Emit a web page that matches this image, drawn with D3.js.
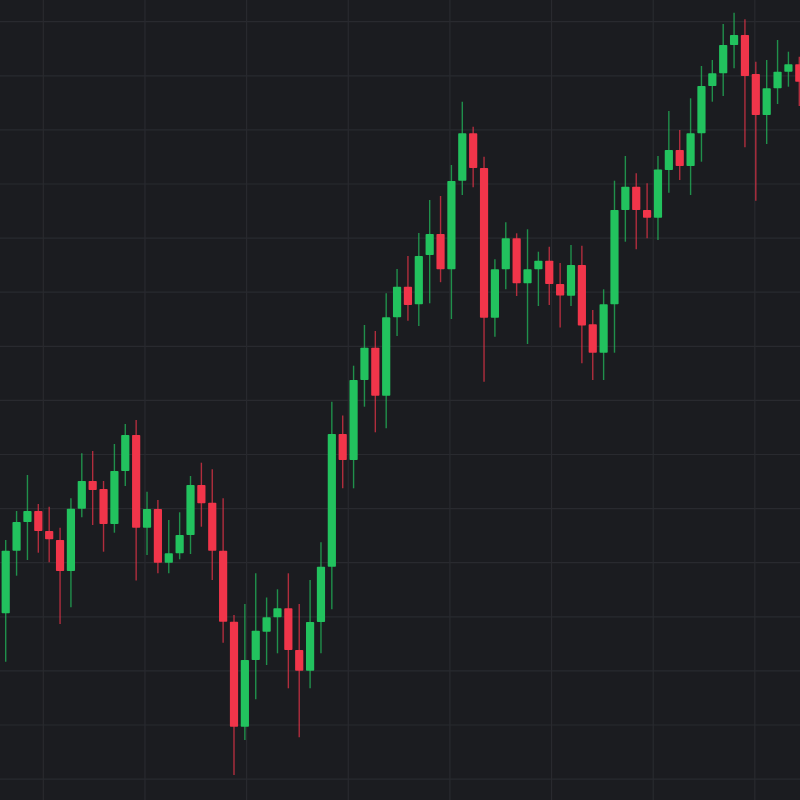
<!DOCTYPE html>
<html>
<head>
<meta charset="utf-8">
<script src="https://cdn.jsdelivr.net/npm/d3@7"></script>
<style>
  html, body { margin: 0; padding: 0; background: #1b1c20; }
  svg { display: block; }
</style>
</head>
<body>
<div id="chart"></div>
<script>
// Candle data (price units)
const opens  = [186.7,249.3,278,289,269,260,229,291.3,319,311,276,329,365,272.3,291,237.3,246.7,265,315,297.3,249.3,178.3,73.3,140,168.3,182.7,191.7,150,129.3,178,233.3,366,340,420,452.3,404.3,482.7,513.3,495.7,545,566,530.7,619.3,666.7,632,482.3,530.7,561.7,516.7,530.7,539.3,516,504.3,535,475.7,447.3,495.7,590,613.3,590,582.3,630,650,634,666.7,714,726.7,755,765,726,685,711.7,728.3,735.7];
const closes = [249.3,278,289,269,260.7,229,291.3,319,310,276,329,365,272.3,291,237.3,246.7,265,315,296.7,249.3,178.3,73.3,140,169.3,182.7,191.7,150,129.3,178,233.3,366,340,420,452.3,404.3,482.7,513.3,495,544,566,530.7,619,666.7,632,482.3,530.7,561.7,516.7,530.7,539.3,516,504.5,535,474.5,447.3,495.7,590,613.3,590,582.3,630.5,650,634,666.7,714,726.7,755,765,724,685,711.7,728.3,735.7,718.3];
const highs  = [260,289,325,296,293.3,272.3,301.7,346.7,349,319,356,376,380,308.3,300,280,287.7,324,337.3,330.7,301.7,185,196,226.7,202.5,210.7,226.7,196,220,257.7,398.3,384.5,434.3,475,469,506.7,531,544,567,600,604,635,698.3,673.3,643.3,540.7,577.7,566.7,570.7,548.3,553.3,537,555,554.3,490,510.7,619.3,644,626.7,616.7,644,689,670,701.7,734,740,776,787.3,780.7,738.3,740,760,748.3,743.3];
const lows   = [138.3,224.3,240,247.3,237.7,176,192.7,282.7,275,248.3,267.3,314,219.5,245,226.7,226.7,240.7,246,273.3,220,157.3,25,60,100.7,135,146.7,111.7,62.7,111.7,146.7,190.7,311.7,311.7,393.3,367.7,371.7,464,479.3,474,496.7,517.8,481,605,612.7,418.3,463.3,510.7,504,456,494,495,472.5,494,436.7,420,420,447.3,558.3,550.7,561.7,560,607.3,620,605,638.3,698.3,704,731.7,652.7,599.3,656,696,713.3,694];

// Grid levels (price units) and vertical grid positions (candle-index units)
const gridPrices = [778.3,724.2,670.1,616,561.9,507.8,453.7,399.6,345.5,291.4,237.3,183.2,129.1,75,20.9];
const gridIndex  = [3.46,12.81,22.16,31.51,40.86,50.21,59.56,68.91];

const W = 800, H = 800;
const GREEN = "#22c25e", RED = "#f1354a";

const data = opens.map((o, i) => ({ i, o, c: closes[i], h: highs[i], l: lows[i] }));

const x = d3.scaleLinear().domain([0, data.length - 1]).range([5.7, 799.3]);
const y = d3.scaleLinear().domain([0, 800]).range([H, 0]);

const svg = d3.select("#chart").append("svg").attr("width", W).attr("height", H);
svg.append("rect").attr("width", W).attr("height", H).attr("fill", "#1b1c20");

const grid = svg.append("g").attr("stroke", "#292a2f").attr("stroke-width", 1.2);
grid.selectAll("line.h").data(gridPrices).join("line").attr("class", "h")
  .attr("x1", 0).attr("x2", W).attr("y1", d => y(d)).attr("y2", d => y(d));
grid.selectAll("line.v").data(gridIndex).join("line").attr("class", "v")
  .attr("y1", 0).attr("y2", H).attr("x1", d => x(d)).attr("x2", d => x(d));

const bodyW = 8.2;
const col = d => d.c >= d.o ? GREEN : RED;

const candles = svg.append("g").selectAll("g").data(data).join("g");
candles.append("line")
  .attr("x1", d => x(d.i)).attr("x2", d => x(d.i))
  .attr("y1", d => y(d.h)).attr("y2", d => y(d.l))
  .attr("stroke", col).attr("stroke-width", 1.4).attr("stroke-opacity", 0.7);
candles.append("rect")
  .attr("x", d => x(d.i) - bodyW / 2)
  .attr("width", bodyW)
  .attr("y", d => y(Math.max(d.o, d.c)))
  .attr("height", d => Math.max(1.5, Math.abs(y(d.o) - y(d.c))))
  .attr("fill", col)
  .attr("rx", 0.8);
</script>
</body>
</html>
